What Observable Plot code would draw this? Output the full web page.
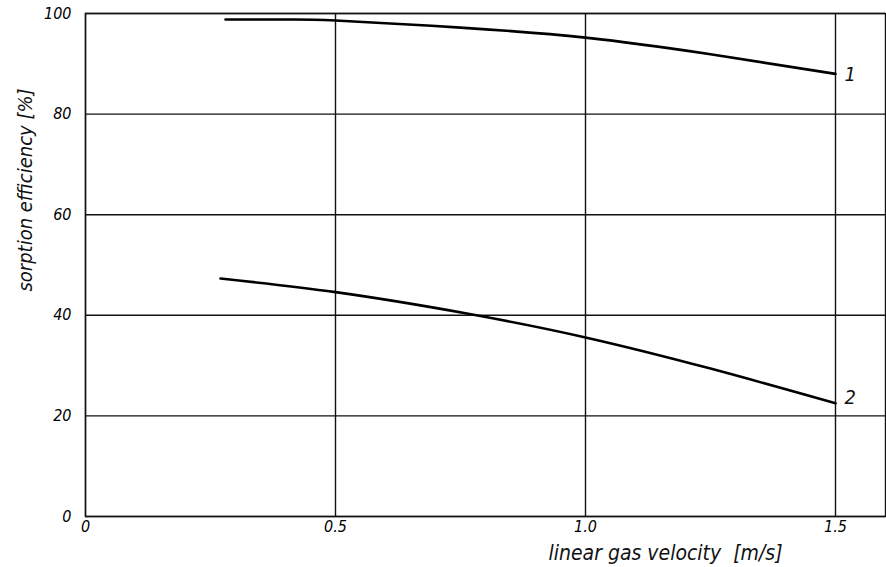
<!DOCTYPE html>
<html>
<head>
<meta charset="utf-8">
<script src="https://cdn.jsdelivr.net/npm/d3@7"></script>
<script src="https://cdn.jsdelivr.net/npm/@observablehq/plot@0.6"></script>
<style>
  html, body { margin: 0; padding: 0; background: #fff; }
  svg { font-family: "DejaVu Sans Condensed", "Liberation Sans Narrow", sans-serif; font-style: italic; }
</style>
</head>
<body>
<div id="chart"></div>
<script>
// Curve 1
const v1 = [0.28, 0.4, 0.5, 0.75, 1.0, 1.25, 1.5];
const e1 = [98.8, 98.8, 98.6, 97.2, 95.2, 91.9, 88.0];
// Curve 2
const v2 = [0.27, 0.5, 0.76, 1.0, 1.25, 1.5];
const e2 = [47.3, 44.6, 40.4, 35.6, 29.4, 22.5];
const curveNames = ["1", "2"];
const xTicks = [0, 0.5, 1.0, 1.5];
const xTickLabels = ["0", "0.5", "1.0", "1.5"];
const yTicks = [0, 20, 40, 60, 80, 100];
const xLabel = "linear gas velocity  [m/s]";
const yLabel = "sorption efficiency [%]";

const rows = [];
v1.forEach((v, i) => rows.push({curve: curveNames[0], v, e: e1[i]}));
v2.forEach((v, i) => rows.push({curve: curveNames[1], v, e: e2[i]}));
const ends = [
  {curve: curveNames[0], v: v1[v1.length - 1], e: e1[e1.length - 1]},
  {curve: curveNames[1], v: v2[v2.length - 1], e: e2[e2.length - 1]}
];

const chart = Plot.plot({
  width: 886,
  height: 567,
  marginLeft: 85,
  marginRight: 1,
  marginTop: 13,
  marginBottom: 51,
  x: {domain: [0, 1.6]},
  y: {domain: [0, 100]},
  marks: [
    Plot.ruleY(yTicks, {stroke: "#111", strokeWidth: 1.4}),
    Plot.ruleX(xTicks, {stroke: "#111", strokeWidth: 1.4}),
    Plot.frame({stroke: "#111", strokeWidth: 1.4}),
    Plot.line(rows, {x: "v", y: "e", z: "curve", curve: "natural", stroke: "#000", strokeWidth: 2.6}),
    Plot.text(ends.slice(0, 1), {x: "v", y: "e", text: "curve", dx: 9, dy: 1, textAnchor: "start", fontSize: 20, fill: "#111"}),
    Plot.text(ends.slice(1, 2), {x: "v", y: "e", text: "curve", dx: 9, dy: -6, textAnchor: "start", fontSize: 20, fill: "#111"}),
    Plot.axisY({ticks: yTicks, tickSize: 0, tickPadding: 14, fontSize: 16, label: null}),
    Plot.axisX({ticks: xTicks, tickFormat: (d, i) => xTickLabels[i], tickSize: 0, tickPadding: 4, fontSize: 16, label: null}),
    Plot.text([xLabel], {frameAnchor: "bottom", textAnchor: "middle", lineAnchor: "middle", dx: 180, dy: 37, fontSize: 21, fill: "#111"}),
    Plot.text([yLabel], {frameAnchor: "left", textAnchor: "middle", lineAnchor: "middle", dx: -60, dy: -75, rotate: -90, fontSize: 20, fill: "#111"})
  ]
});
document.getElementById("chart").appendChild(chart);
</script>
</body>
</html>
